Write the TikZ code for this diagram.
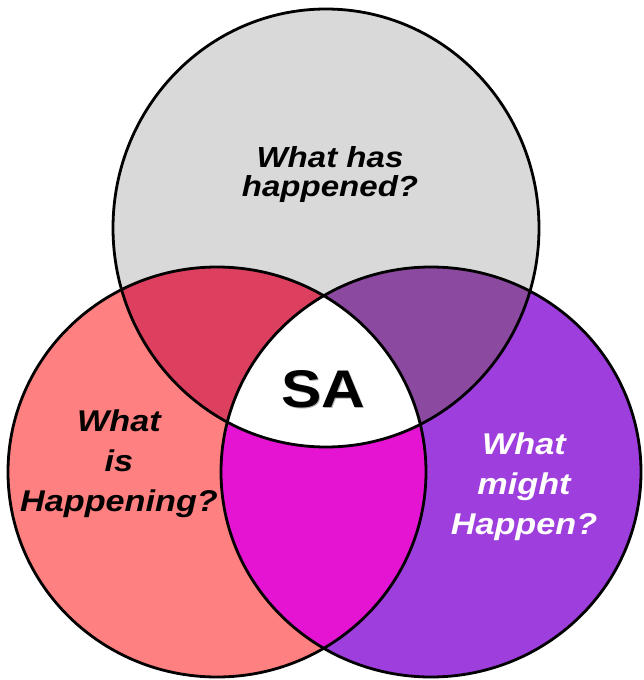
\documentclass[tikz,border=0pt]{standalone}
\usepackage{fontspec}
\setmainfont{Liberation Sans}[FakeStretch=1.14]
\usepackage{tikz}
\definecolor{pastgray}{HTML}{D9D9D9}
\definecolor{nowred}{HTML}{FF8080}
\definecolor{nextpurple}{HTML}{9D3EDD}
\definecolor{pastnow}{HTML}{DD3F5F}
\definecolor{pastnext}{HTML}{8B49A0}
\definecolor{nownext}{HTML}{E513D2}
\newcommand{\pastset}{(326,228) ellipse [x radius=213, y radius=219]}
\newcommand{\nowset}{(217,472) ellipse [x radius=209, y radius=205]}
\newcommand{\nextset}{(431,472) ellipse [x radius=210, y radius=205]}
\begin{document}
\begin{tikzpicture}[x=1pt, y=-1pt,
  outline/.style = {draw=black, line width=2.8pt},
  question/.style = {align=center, inner sep=0pt, font=\bfseries\itshape\fontsize{30}{40}\selectfont}]
 \useasboundingbox (0,0) rectangle (643,680);
 % base sets
 \fill[pastgray] \pastset;
 \fill[nowred] \nowset;
 \fill[nextpurple] \nextset;
 % overlaps
 \begin{scope}
  \clip \pastset;
  \fill[pastnow] \nowset;
  \fill[pastnext] \nextset;
 \end{scope}
 \begin{scope}
  \clip \nowset;
  \fill[nownext] \nextset;
  \clip \pastset;
  \fill[white] \nextset;
 \end{scope}
 \draw[outline] \pastset;
 \draw[outline] \nowset;
 \draw[outline] \nextset;
 % labels
 \node[question, font=\bfseries\itshape\fontsize{29}{29}\selectfont] (past) at (330,175) {What has\\happened?};
 \node[question] (now) at (119,464) {What\\is\\Happening?};
 \node[question, text=white] (next) at (524,487) {What\\might\\Happen?};
 \node[inner sep=0pt, text=black!30, font=\bfseries\fontsize{53}{53}\selectfont] at (324.5,390.5) {SA};
 \node[inner sep=0pt, font=\bfseries\fontsize{53}{53}\selectfont] (sa) at (323,389) {SA};
\end{tikzpicture}
\end{document}
